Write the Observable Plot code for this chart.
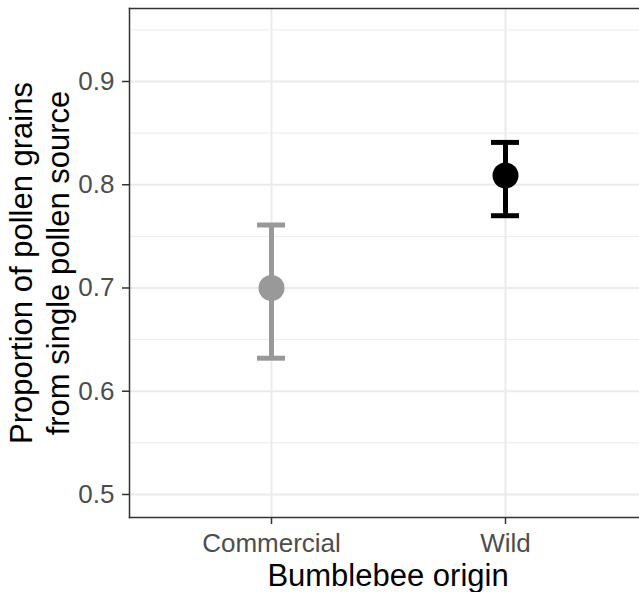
<!DOCTYPE html>
<html>
<head>
<meta charset="utf-8">
<script src="https://cdn.jsdelivr.net/npm/d3@7"></script>
<script src="https://cdn.jsdelivr.net/npm/@observablehq/plot@0.6"></script>
<style>
  html, body { margin: 0; padding: 0; background: #fff; }
  #chart svg { display: block; }
</style>
</head>
<body>
<div id="chart"></div>
<script>
// Data
const origins = ["Commercial", "Wild"];
const means = [0.700, 0.809];
const lowers = [0.632, 0.770];
const uppers = [0.761, 0.841];
const majorTicks = [0.5, 0.6, 0.7, 0.8, 0.9];
const minorTicks = [0.55, 0.65, 0.75, 0.85, 0.95];
const pointColors = ["#999999", "#000000"];
const xTitle = "Bumblebee origin";
const yTitle = "Proportion of pollen grains\nfrom single pollen source";

const data = origins.map((o, i) => ({origin: o, mean: means[i], lo: lowers[i], hi: uppers[i]}));

const grid = "#ebebeb";
const ink = "#333333";

const plot = Plot.plot({
  width: 639,
  height: 592,
  marginLeft: 129,
  marginRight: -7,
  marginTop: 8,
  marginBottom: 75,
  style: {fontFamily: "'Liberation Sans', Arial, sans-serif", background: "#fff"},
  x: {type: "point", domain: origins, padding: 0.6, axis: null},
  y: {domain: [0.4777, 0.9707], axis: null},
  color: {domain: origins, range: pointColors},
  marks: [
    Plot.gridY(minorTicks, {stroke: grid, strokeOpacity: 1, strokeWidth: 1}),
    Plot.gridY(majorTicks, {stroke: grid, strokeOpacity: 1, strokeWidth: 2}),
    Plot.gridX(origins, {stroke: grid, strokeOpacity: 1, strokeWidth: 2}),
    Plot.ruleX(data, {x: "origin", y1: "lo", y2: "hi", stroke: "origin", strokeWidth: 5}),
    Plot.ruleY(data, {x1: "origin", x2: "origin", y: "lo", stroke: "origin", strokeWidth: 5, insetLeft: -14, insetRight: -14}),
    Plot.ruleY(data, {x1: "origin", x2: "origin", y: "hi", stroke: "origin", strokeWidth: 5, insetLeft: -14, insetRight: -14}),
    Plot.dot(data, {x: "origin", y: "mean", fill: "origin", r: 13}),
    Plot.frame({anchor: "top", stroke: ink, strokeWidth: 1.5}),
    Plot.frame({anchor: "bottom", stroke: ink, strokeWidth: 1.5}),
    Plot.frame({anchor: "left", stroke: ink, strokeWidth: 1.5}),
    Plot.axisY(majorTicks, {tickSize: 7, tickPadding: 8, tickFormat: d3.format(".1f"), fontSize: 26, color: "#4d4d4d", stroke: ink, strokeWidth: 1.5, label: null}),
    Plot.axisX(origins, {tickSize: 7, tickPadding: 9, fontSize: 26, color: "#4d4d4d", stroke: ink, strokeWidth: 1.5, label: null}),
    Plot.text([xTitle], {frameAnchor: "bottom", lineAnchor: "middle", textAnchor: "middle", dy: 59, fontSize: 31, fill: "#000", text: d => d}),
    Plot.text([yTitle], {frameAnchor: "left", lineAnchor: "middle", textAnchor: "middle", dx: -91, rotate: -90, fontSize: 31, lineHeight: 1.2, fill: "#000", text: d => d})
  ]
});
document.getElementById("chart").append(plot);
</script>
</body>
</html>
